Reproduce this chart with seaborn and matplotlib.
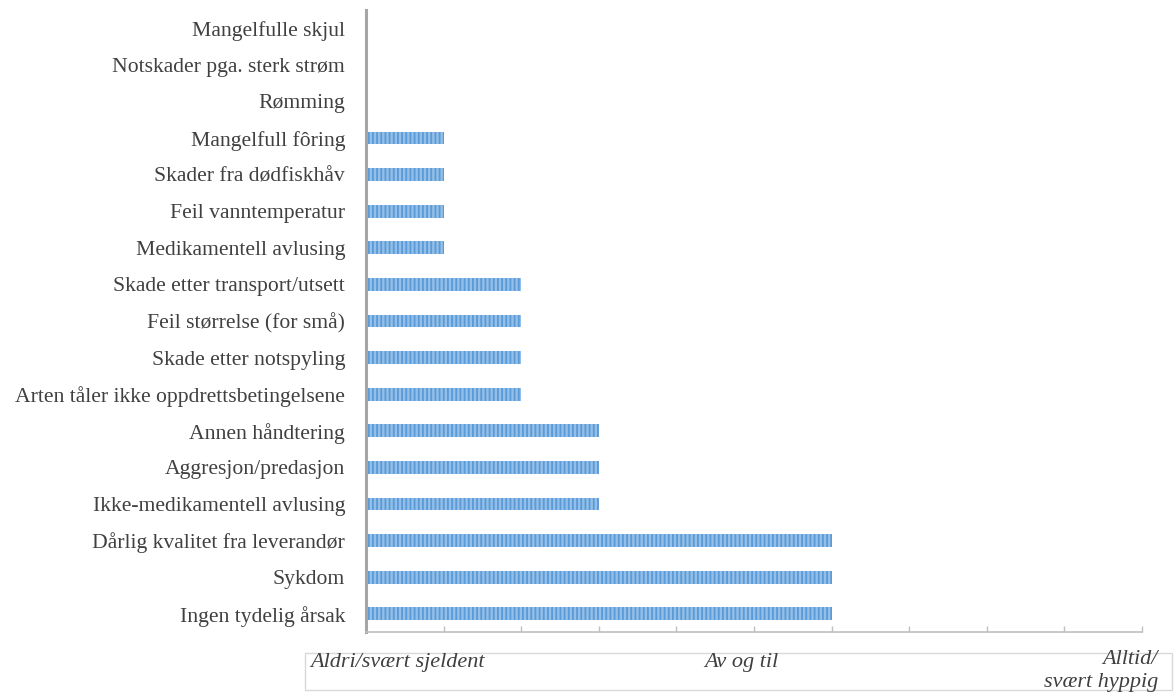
import matplotlib
matplotlib.use("Agg")
import matplotlib.pyplot as plt
import seaborn as sns
import pandas as pd
from matplotlib.patches import Rectangle

categories = [
    "Mangelfulle skjul",
    "Notskader pga. sterk strøm",
    "Rømming",
    "Mangelfull fôring",
    "Skader fra dødfiskhåv",
    "Feil vanntemperatur",
    "Medikamentell avlusing",
    "Skade etter transport/utsett",
    "Feil størrelse (for små)",
    "Skade etter notspyling",
    "Arten tåler ikke oppdrettsbetingelsene",
    "Annen håndtering",
    "Aggresjon/predasjon",
    "Ikke-medikamentell avlusing",
    "Dårlig kvalitet fra leverandør",
    "Sykdom",
    "Ingen tydelig årsak",
]
values = [0, 0, 0, 1, 1, 1, 1, 2, 2, 2, 2, 3, 3, 3, 6, 6, 6]
scale_labels = ["Aldri/svært sjeldent", "Av og til", "Alltid/\nsvært hyppig"]

sns.set_theme(style="white")
plt.rcParams["font.family"] = ["Liberation Serif", "DejaVu Serif"]
plt.rcParams["hatch.linewidth"] = 1.3

df = pd.DataFrame({"cat": categories, "val": values})

fig = plt.figure(figsize=(11.76, 6.93), dpi=100)
ax = fig.add_axes([366/1176, 1-632/693, (1142-366)/1176, (632-10)/693])

sns.barplot(data=df, x="val", y="cat", orient="h", color="#93bfe8",
            width=0.35, ax=ax, saturation=1)
for p in ax.patches:
    p.set_hatch("||||")
    p.set_edgecolor("#5a9ad6")
    p.set_linewidth(0)

ax.set_xlim(0, 10)
ax.set_ylim(16.5, -0.5)
ax.set_xticks(range(0, 11))
ax.set_xticklabels([])
ax.tick_params(axis="x", direction="in", length=4, color="#bfbfbf", width=1, bottom=True)
ax.tick_params(axis="y", length=0, labelsize=15.6, labelcolor="#404040", pad=15)
ax.set_xlabel("")
ax.set_ylabel("")
for s in ["top", "right"]:
    ax.spines[s].set_visible(False)
ax.spines["left"].set_color("#a6a6a6")
ax.spines["left"].set_linewidth(2.2)
ax.spines["bottom"].set_color("#bfbfbf")
ax.spines["bottom"].set_linewidth(1.2)

# label box below
box = Rectangle((305/1176, 1-690/693), (1172-305)/1176, (690-653)/693,
                transform=fig.transFigure, fill=False, edgecolor="#d9d9d9", lw=1)
fig.add_artist(box)
tk = dict(fontsize=16, style="italic", color="#404040")
fig.text(310/1176, 1-662/693, scale_labels[0], ha="left", va="center", **tk)
fig.text(741/1176, 1-662/693, scale_labels[1], ha="center", va="center", **tk)
fig.text(1158/1176, 1-671/693, scale_labels[2], ha="right", va="center",
         linespacing=1.35, **tk)

fig.savefig("out.png", dpi=100)
